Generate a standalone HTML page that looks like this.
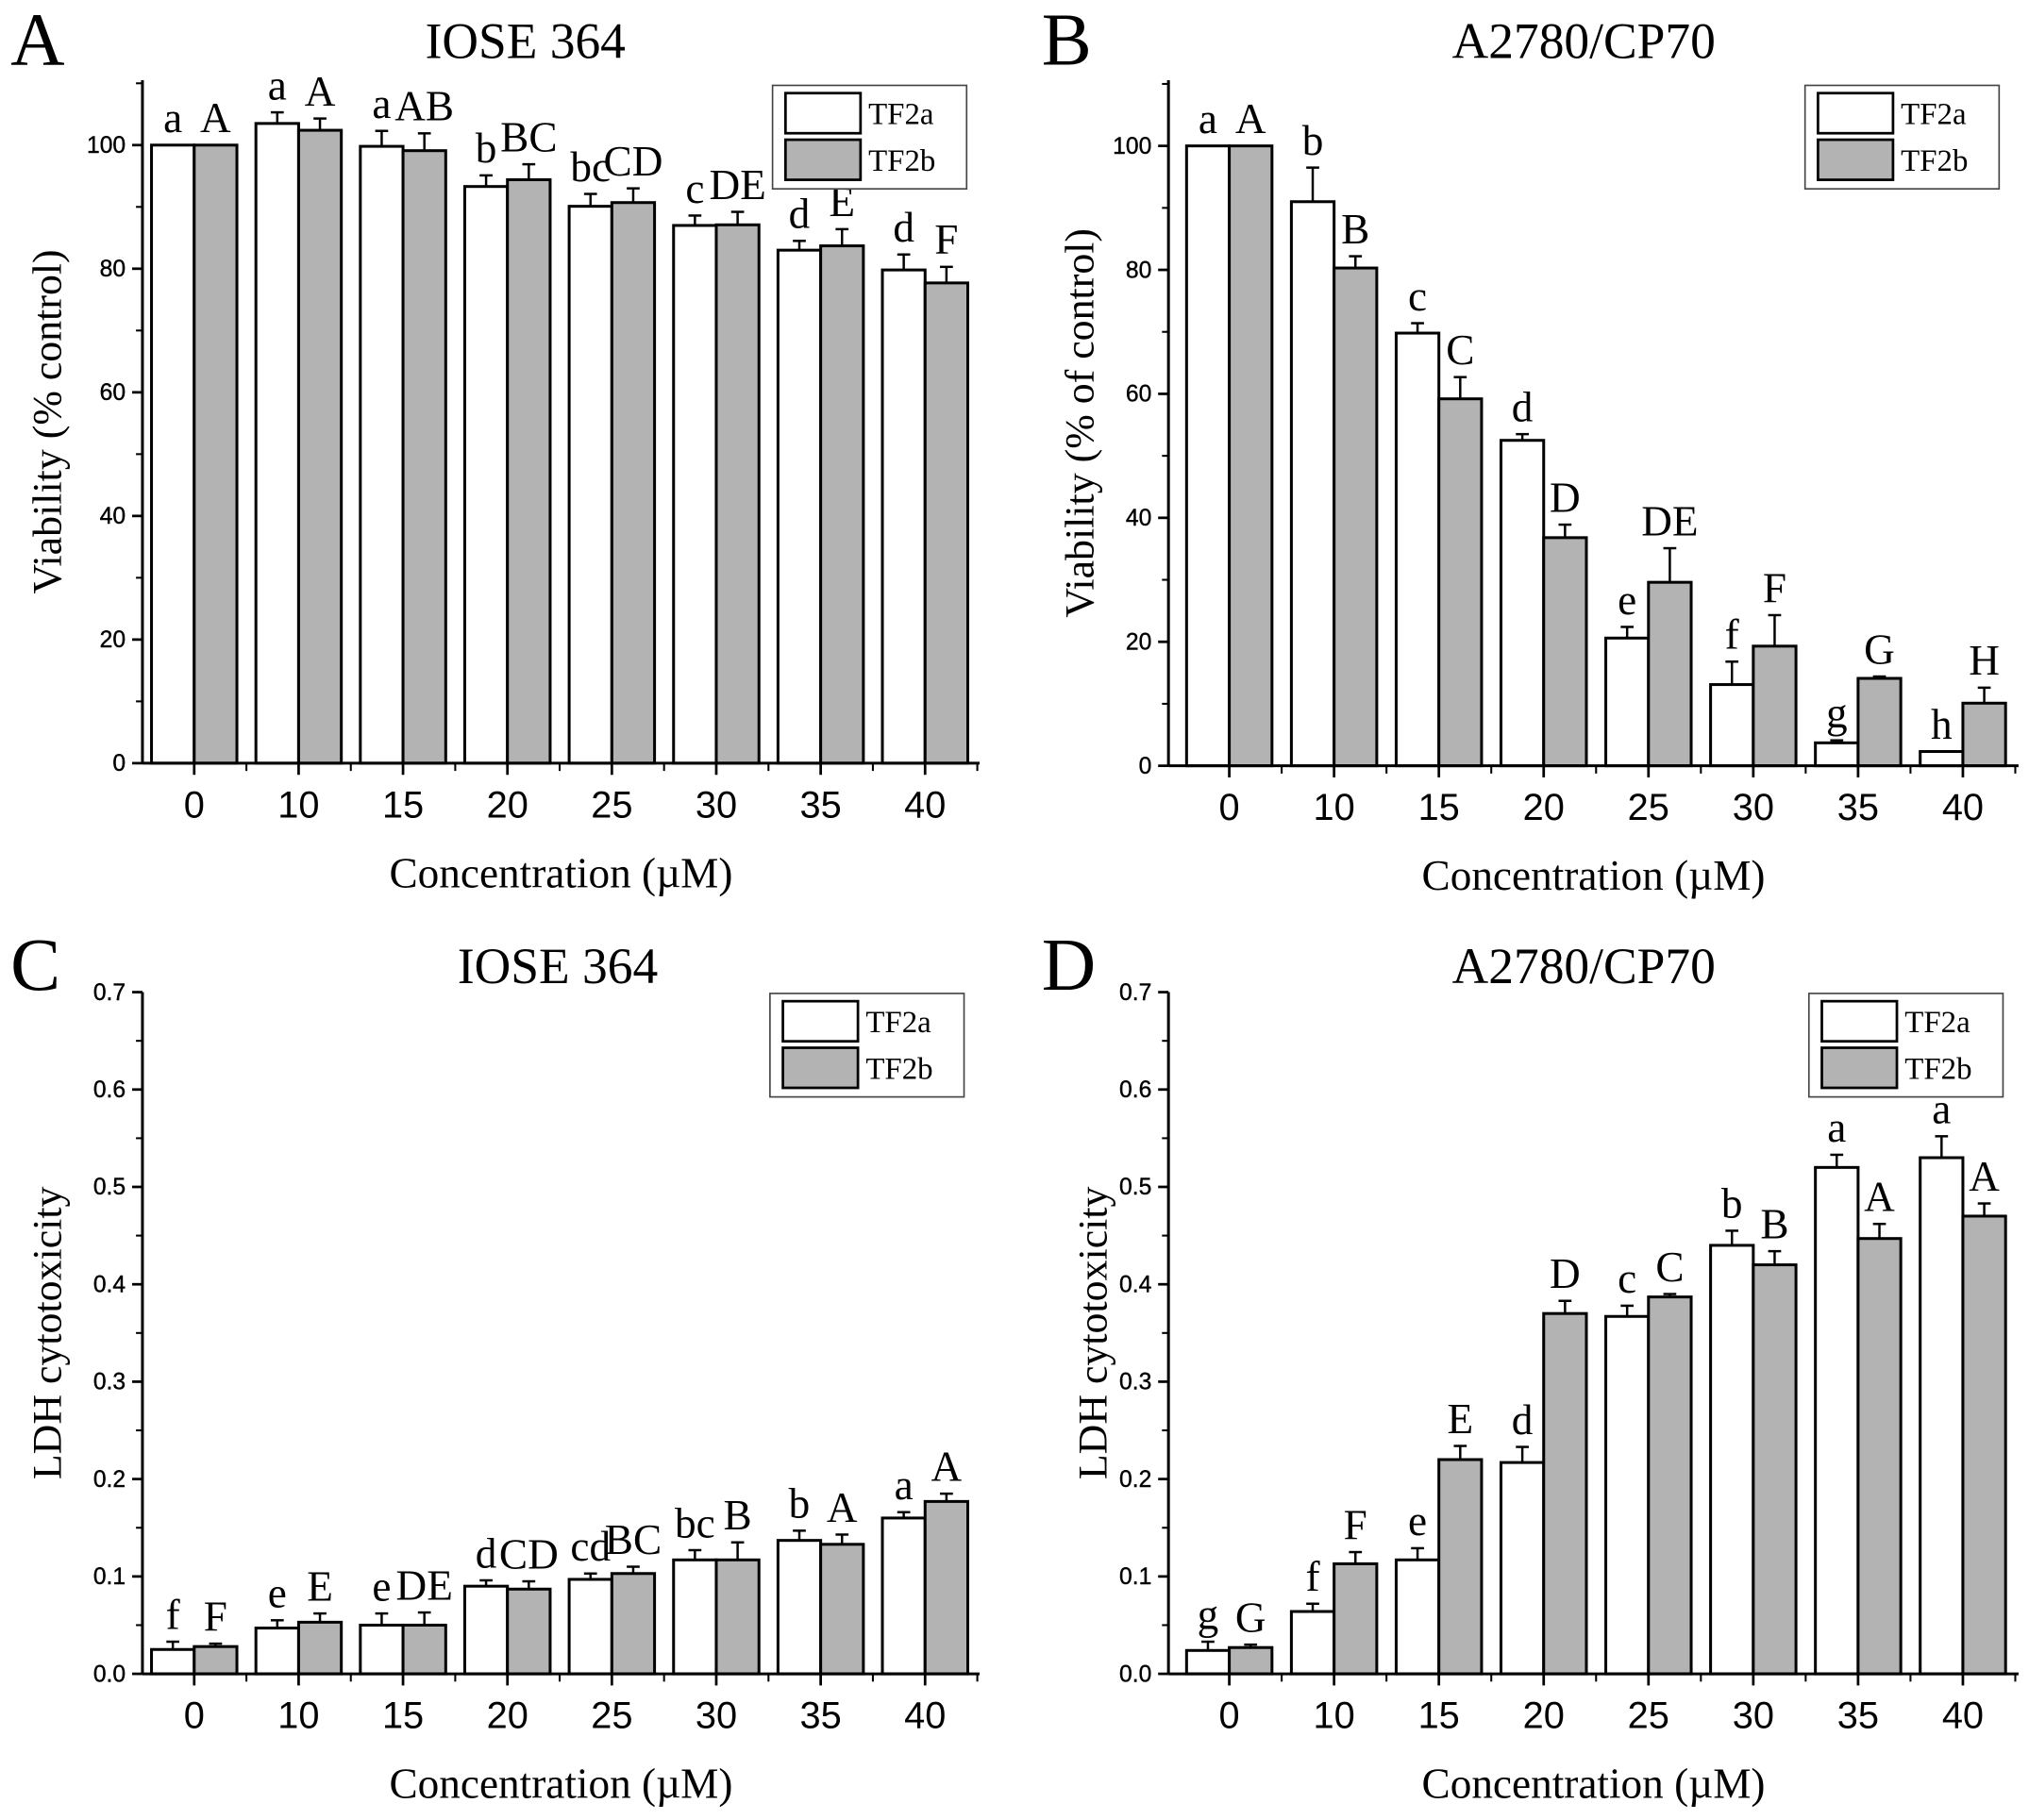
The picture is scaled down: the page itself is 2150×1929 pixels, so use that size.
<!DOCTYPE html>
<html><head><meta charset="utf-8"><style>
html,body{margin:0;padding:0;background:#fff}
svg{display:block}
.serif{font-family:"Liberation Serif",serif}
.sans{font-family:"Liberation Sans",sans-serif}
</style></head><body>
<svg id="fig" width="2150" height="1929" viewBox="0 0 1568 1407" xmlns="http://www.w3.org/2000/svg"></svg>
<script>
const categories=["0","10","15","20","25","30","35","40"];
const seriesNames=["TF2a","TF2b"];
const aTF2a=[100,103.5,99.8,93.3,90.1,87,83,79.8];
const aTF2aErr=[0,1.8,2.5,1.8,2,1.6,1.5,2.5];
const aTF2b=[100,102.4,99.1,94.4,90.7,87.1,83.7,77.7];
const aTF2bErr=[0,1.9,2.8,2.5,2.3,2.1,2.7,2.6];
const aLabA=["a","a","a","b","bc","c","d","d"];
const aLabB=["A","A","AB","BC","CD","DE","E","F"];
const bTF2a=[100,91,69.8,52.5,20.6,13.1,3.7,2.3];
const bTF2aErr=[0,5.5,1.6,1,1.8,3.7,0.4,0];
const bTF2b=[100,80.3,59.2,36.8,29.6,19.3,14.1,10.1];
const bTF2bErr=[0,1.9,3.5,2.1,5.5,5,0.3,2.5];
const bLabA=["a","b","c","d","e","f","g","h"];
const bLabB=["A","B","C","D","DE","F","G","H"];
const cTF2a=[0.025,0.047,0.05,0.09,0.097,0.117,0.137,0.16];
const cTF2aErr=[0.008,0.008,0.012,0.006,0.006,0.01,0.01,0.006];
const cTF2b=[0.028,0.053,0.05,0.087,0.103,0.117,0.133,0.177];
const cTF2bErr=[0.003,0.009,0.013,0.008,0.007,0.018,0.01,0.008];
const cLabA=["f","e","e","d","cd","bc","b","a"];
const cLabB=["F","E","DE","CD","BC","B","A","A"];
const dTF2a=[0.024,0.064,0.117,0.217,0.367,0.44,0.52,0.53];
const dTF2aErr=[0.009,0.008,0.012,0.016,0.011,0.015,0.013,0.022];
const dTF2b=[0.027,0.113,0.22,0.37,0.387,0.42,0.447,0.47];
const dTF2bErr=[0.003,0.012,0.014,0.013,0.003,0.014,0.015,0.013];
const dLabA=["g","f","e","d","c","b","a","a"];
const dLabB=["G","F","E","D","C","B","A","A"];
const viabTicks=[0,20,40,60,80,100];
const ldhTicks=["0.0","0.1","0.2","0.3","0.4","0.5","0.6","0.7"];

const svg=document.getElementById('fig');
const NS="http://www.w3.org/2000/svg";
function mk(tag,attrs,parent){const e=document.createElementNS(NS,tag);for(const k in attrs)e.setAttribute(k,attrs[k]);(parent||svg).appendChild(e);return e;}
function txt(s,attrs,parent){const e=mk('text',attrs,parent);e.textContent=s;return e;}

function panel(cfg){
  const g=mk('g',{});
  
  
  const x0=cfg.axisX, yb=cfg.bottom, yt=cfg.top, ymax=cfg.ymax;
  const yS=v=>yb-(v/ymax)*(yb-yt);
  const xC=i=>cfg.firstC+i*cfg.step;
  const bw=33;
  const L=txt(cfg.letter,{x:cfg.letterX,y:cfg.letterY,'font-size':58,class:'serif'},g);
  
  const T=txt(cfg.title,{x:cfg.titleX,y:cfg.titleY,'font-size':39,'text-anchor':'middle',class:'serif'},g);
  
  for(let i=0;i<categories.length;i++){
    const sets=[[cfg.a,cfg.ae,'#fff',-bw,cfg.la],[cfg.b,cfg.be,'#b3b3b3',0,cfg.lb]];
    sets.forEach((s,k)=>{
      const v=s[0][i], e=s[1][i], bx=xC(i)+s[3];
      const r=mk('rect',{x:bx,y:yS(v),width:bw,height:yb-yS(v),fill:s[2],stroke:'#000','stroke-width':2.2},g);
      
      
      const cx=bx+bw/2;
      if(e>0){
        mk('line',{x1:cx,x2:cx,y1:yS(v),y2:yS(v+e),stroke:'#000','stroke-width':1.8},g);
        mk('line',{x1:cx-5,x2:cx+5,y1:yS(v+e),y2:yS(v+e),stroke:'#000','stroke-width':1.8},g);
      }
      const lt=txt(s[4][i],{x:cx,y:yS(v+e)-10,'font-size':33,'text-anchor':'middle',class:'serif'},g);
      
      
    });
  }
  const right=cfg.axisRight;
  mk('line',{x1:x0,x2:x0,y1:yt,y2:yb,stroke:'#000','stroke-width':2.2},g);
  mk('line',{x1:x0,x2:right,y1:yb,y2:yb,stroke:'#000','stroke-width':2.2},g);
  cfg.ticks.forEach((t,j)=>{
    const v=parseFloat(t), y=yS(v);
    mk('line',{x1:x0-8,x2:x0,y1:y,y2:y,stroke:'#000','stroke-width':2},g);
    const tl=txt(t,{x:x0-13,y:y+6,'font-size':18,'text-anchor':'end',class:'sans','stroke':'#000','stroke-width':0.3},g);
    
    if(j<cfg.ticks.length-1||cfg.minorTop){const ym=yS(v+cfg.minor);mk('line',{x1:x0-5,x2:x0,y1:ym,y2:ym,stroke:'#000','stroke-width':1.5},g);}
  });
  for(let i=0;i<categories.length;i++){
    const cx=xC(i);
    mk('line',{x1:cx,x2:cx,y1:yb,y2:yb+9,stroke:'#000','stroke-width':2},g);
    mk('line',{x1:cx+cfg.step/2,x2:cx+cfg.step/2,y1:yb,y2:yb+6,stroke:'#000','stroke-width':1.5},g);
    const xl=txt(categories[i],{x:cx,y:yb+42,'font-size':29,'text-anchor':'middle',class:'sans'},g);
    
  }
  const xt=txt('Concentration (\u00b5M)',{x:(x0+right)/2,y:yb+96,'font-size':33,'text-anchor':'middle',class:'serif'},g);
  
  const ym=(yt+yb)/2;
  const yl=txt(cfg.ylab,{x:0,y:0,'font-size':32,'text-anchor':'middle',class:'serif',transform:`translate(${cfg.ylabX},${ym}) rotate(-90)`},g);
  
  const lg=mk('g',{},g);
  
  
  const lx=cfg.legX, ly=cfg.legY;
  mk('rect',{x:lx,y:ly,width:150,height:80,fill:'#fff',stroke:'#444','stroke-width':1.2},lg);
  [['#fff',0],['#b3b3b3',1]].forEach(([c,k])=>{
    const sw=mk('rect',{x:lx+10,y:ly+6+k*36,width:58,height:31,fill:c,stroke:'#000','stroke-width':2},lg);
    
    
    const t=txt(seriesNames[k],{x:lx+74,y:ly+30+k*36,'font-size':24,class:'serif'},lg);
    
    
  });
}
panel({name:'panel-a',letter:'A',letterX:8,letterY:50,title:'IOSE 364',titleX:406,titleY:45,axisX:110,axisRight:757,bottom:590,top:62,ymax:110.5,firstC:150,step:80.7,
  a:aTF2a,ae:aTF2aErr,b:aTF2b,be:aTF2bErr,la:aLabA,lb:aLabB,ticks:viabTicks.map(String),minor:10,minorTop:true,ylab:'Viability (% control)',ylabX:47,legX:597,legY:66});
panel({name:'panel-b',letter:'B',letterX:805,letterY:50,title:'A2780/CP70',titleX:1224,titleY:45,axisX:903,axisRight:1560,bottom:592,top:62,ymax:110.6,firstC:950,step:81,
  a:bTF2a,ae:bTF2aErr,b:bTF2b,be:bTF2bErr,la:bLabA,lb:bLabB,ticks:viabTicks.map(String),minor:10,minorTop:true,ylab:'Viability (% of control)',ylabX:845,legX:1395,legY:66});
panel({name:'panel-c',letter:'C',letterX:8,letterY:765,title:'IOSE 364',titleX:431,titleY:760,axisX:110,axisRight:757,bottom:1294,top:767,ymax:0.7,firstC:150,step:80.7,
  a:cTF2a,ae:cTF2aErr,b:cTF2b,be:cTF2bErr,la:cLabA,lb:cLabB,ticks:ldhTicks,minor:0.05,minorTop:false,ylab:'LDH cytotoxicity',ylabX:47,legX:595,legY:768});
panel({name:'panel-d',letter:'D',letterX:805,letterY:765,title:'A2780/CP70',titleX:1224,titleY:760,axisX:903,axisRight:1560,bottom:1294,top:767,ymax:0.7,firstC:950,step:81,
  a:dTF2a,ae:dTF2aErr,b:dTF2b,be:dTF2bErr,la:dLabA,lb:dLabB,ticks:ldhTicks,minor:0.05,minorTop:false,ylab:'LDH cytotoxicity',ylabX:855,legX:1398,legY:768});
</script>
</body></html>
